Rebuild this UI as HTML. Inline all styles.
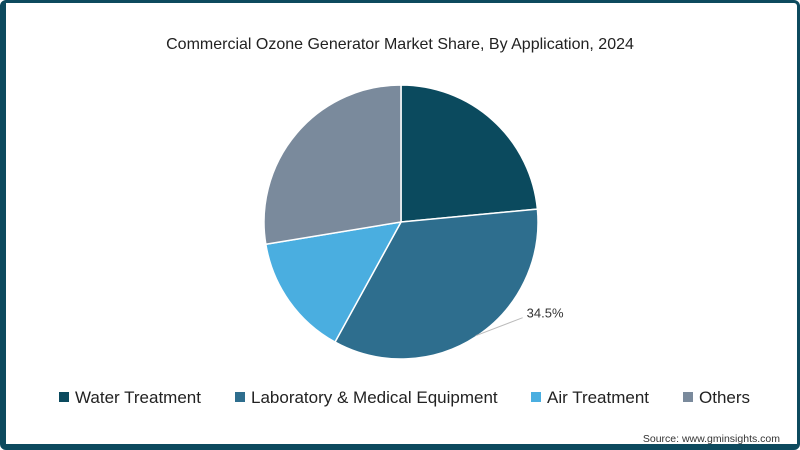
<!DOCTYPE html>
<html><head><meta charset="utf-8"><style>
body{margin:0;width:800px;height:450px;overflow:hidden;background:#fff;font-family:"Liberation Sans",sans-serif}
#frame{position:absolute;left:0;top:0;width:791px;height:441px;border-style:solid;border-color:#0d4a5e;border-width:3px 3px 6px 6px;border-radius:6px;background:#fff}
</style></head><body>
<div id="frame"></div>
<svg width="800" height="450" style="position:absolute;left:0;top:0">
<text x="400" y="49" text-anchor="middle" font-size="16" fill="#222">Commercial Ozone Generator Market Share, By Application, 2024</text>
<g id="pie"></g>
<g id="legend"></g>
<text x="780" y="442" text-anchor="end" font-size="10.5" fill="#333">Source: www.gminsights.com</text>
</svg>
<script>
const categories=["Water Treatment","Laboratory & Medical Equipment","Air Treatment","Others"];
const values=[23.5,34.5,14.4,27.6];
const labels=["","34.5%","",""];
const colors=["#0b4a5e","#2e6e8e","#4aaee0","#7a8a9c"];
const ns="http://www.w3.org/2000/svg";
const cx=401,cy=222,r=137;
const pie=document.getElementById('pie');
const total=values.reduce((a,b)=>a+b,0);
let a0=0;
function pt(a,rr){return [cx+rr*Math.sin(a),cy-rr*Math.cos(a)];}
values.forEach((v,i)=>{
  const a1=a0+v/total*2*Math.PI;
  const p0=pt(a0,r),p1=pt(a1,r);
  const p=document.createElementNS(ns,'path');
  p.setAttribute('d',`M${cx},${cy}L${p0[0]},${p0[1]}A${r},${r} 0 ${a1-a0>Math.PI?1:0} 1 ${p1[0]},${p1[1]}Z`);
  p.setAttribute('fill',colors[i]);p.setAttribute('stroke','#fff');p.setAttribute('stroke-width','1.5');
  
  
  pie.appendChild(p);
  if(labels[i]){
    const am=a0+(a1-a0)*0.5;
    const q0=pt(am,r-1);const q1=[q0[0]+47,q0[1]-18];
    const l=document.createElementNS(ns,'path');
    l.setAttribute('d',`M${q0[0]},${q0[1]}L${q1[0]},${q1[1]}`);
    l.setAttribute('stroke','#bbb');l.setAttribute('fill','none');
    
    
    pie.appendChild(l);
    const t=document.createElementNS(ns,'text');
    t.setAttribute('x',q1[0]+4);t.setAttribute('y',q1[1]);t.setAttribute('font-size','13');t.setAttribute('fill','#333');
    t.textContent=labels[i];
    
    
    pie.appendChild(t);
  }
  a0=a1;
});
const leg=document.getElementById('legend');
const lx=[59,235,531,683];
categories.forEach((c,i)=>{
  const g=document.createElementNS(ns,'g');
  
  
  const s=document.createElementNS(ns,'rect');
  s.setAttribute('x',lx[i]);s.setAttribute('y',392);s.setAttribute('width',10);s.setAttribute('height',10);s.setAttribute('fill',colors[i]);
  const t=document.createElementNS(ns,'text');
  t.setAttribute('x',lx[i]+16);t.setAttribute('y',403);t.setAttribute('font-size','17');t.setAttribute('fill','#222');
  t.textContent=c;
  g.appendChild(s);g.appendChild(t);leg.appendChild(g);
});
</script>
</body></html>
